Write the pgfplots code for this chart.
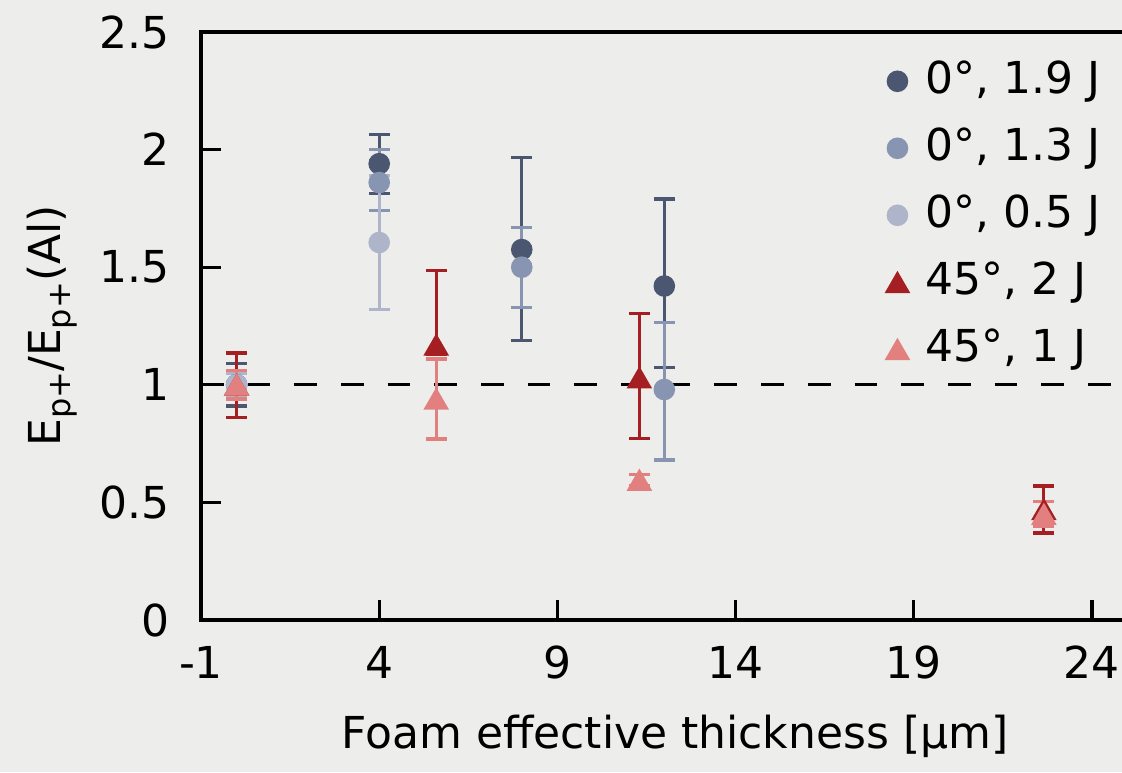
\documentclass[border=0pt]{standalone}
\usepackage{fontspec}
\setmainfont{DejaVu Sans}
\usepackage{pgfplots}
\usepackage{pgfplotstable}
\pgfplotsset{compat=1.18}
\definecolor{bgc}{RGB}{237,237,235}
\definecolor{cA}{RGB}{75,86,112}
\definecolor{cB}{RGB}{135,149,178}
\definecolor{cC}{RGB}{174,181,202}
\definecolor{cD}{RGB}{165,31,34}
\definecolor{cE}{RGB}{226,128,128}
\pgfplotstableread{
x y ep em
0 1.00 0.09 0.09
4 1.94 0.125 0.125
8 1.575 0.39 0.385
12 1.42 0.37 0.345
}\dA
\pgfplotstableread{
x y ep em
0 1.00 0.06 0.06
4 1.86 0.14 0.12
8 1.50 0.17 0.17
12 0.98 0.285 0.30
}\dB
\pgfplotstableread{
x y ep em
0 1.00 0.05 0.05
4 1.605 0.285 0.285
}\dC
\pgfplotstableread{
x y ep em
0 1.00 0.135 0.14
5.6 1.17 0.315 0.04
11.3 1.03 0.273 0.258
22.65 0.47 0.10 0.10
}\dD
\pgfplotstableread{
x y ep em
0 1.00 0.06 0.06
5.6 0.94 0.17 0.17
11.3 0.595 0.025 0.025
22.65 0.45 0.055 0.05
}\dE
\pgfplotsset{
  myerr/.style={error bars/.cd, y dir=both, y explicit,
    error bar style={line width=0.8pt, #1},
    error mark options={rotate=90, mark size=2.6pt, line width=0.8pt, #1}},
}
\begin{document}
\begin{tikzpicture}[font=\fontsize{11}{13}\selectfont]
\path[use as bounding box, fill=bgc] (-50.25pt,-38pt) rectangle (230.25pt,155pt);
\clip (-50.25pt,-38pt) rectangle (230.25pt,155pt);
\begin{axis}[
  at={(0pt,0pt)}, anchor=south west,
  scale only axis, width=237pt, height=147pt,
  xmin=-1, xmax=25.6, ymin=0, ymax=2.5,
  axis line style={line width=0.8pt},
  tick align=inside, tick pos=left,
  major tick length=5pt,
  every tick/.style={black, line width=0.8pt},
  xtick={-1,4,9,14,19,24},
  xticklabels={-1,4,9,14,19,24},
  ytick={0,0.5,1,1.5,2,2.5},
  yticklabels={0,0.5,1,1.5,2,2.5},
  xticklabel style={anchor=base, inner sep=0pt, yshift=-14.5pt, font=\fontsize{11}{13}\selectfont},
  yticklabel style={anchor=east, inner sep=0pt, xshift=-7.75pt, font=\fontsize{11}{13}\selectfont},
  xlabel={Foam effective thickness [µm]},
  ylabel={E\raisebox{-0.22em}{\fontsize{8}{9}\selectfont p+}/E\raisebox{-0.22em}{\fontsize{8}{9}\selectfont p+}(Al)},
  every axis x label/.style={at={(axis description cs:0.5,-0.2177)}, anchor=base, inner sep=0pt, font=\fontsize{11}{13}\selectfont},
  every axis y label/.style={at={(axis description cs:-0.157,0.5)}, rotate=90, anchor=center, inner sep=0pt, font=\fontsize{11}{13}\selectfont},
  legend style={draw=none, fill=none, at={(axis description cs:0.7226,0.9536)}, anchor=north west,
    inner sep=0pt, outer sep=0pt, row sep=5.75pt,
    nodes={inner sep=0pt, text height=8.5pt, text depth=2.5pt, font=\fontsize{11}{13}\selectfont},
    /tikz/every odd column/.style={column sep=4.1pt}},
  legend cell align=left,
  legend image code/.code={\draw[#1, only marks] plot coordinates {(0pt,0pt)};},
]
\addplot[black, line width=0.8pt, dash pattern=on 5.67pt off 6pt, forget plot] coordinates {(-1,1) (25.6,1)};
\addplot[only marks, color=cA, mark=*, mark options={fill=cA, draw=cA, mark size=2.5pt}, myerr=cA]
  table[x=x, y=y, y error plus=ep, y error minus=em]{\dA};
\addlegendentry{0°, 1.9 J}
\addplot[only marks, color=cB, mark=*, mark options={fill=cB, draw=cB, mark size=2.5pt}, myerr=cB]
  table[x=x, y=y, y error plus=ep, y error minus=em]{\dB};
\addlegendentry{0°, 1.3 J}
\addplot[only marks, color=cC, mark=*, mark options={fill=cC, draw=cC, mark size=2.5pt}, myerr=cC]
  table[x=x, y=y, y error plus=ep, y error minus=em]{\dC};
\addlegendentry{0°, 0.5 J}
\addplot[only marks, color=cD, mark=triangle*, mark options={fill=cD, draw=cD, mark size=3.3pt, yshift=-0.83pt}, myerr=cD]
  table[x=x, y=y, y error plus=ep, y error minus=em]{\dD};
\addlegendentry{45°, 2 J}
\addplot[only marks, color=cE, mark=triangle*, mark options={fill=cE, draw=cE, mark size=3.3pt, yshift=-0.83pt}, myerr=cE]
  table[x=x, y=y, y error plus=ep, y error minus=em]{\dE};
\addlegendentry{45°, 1 J}
\end{axis}
\end{tikzpicture}
\end{document}
